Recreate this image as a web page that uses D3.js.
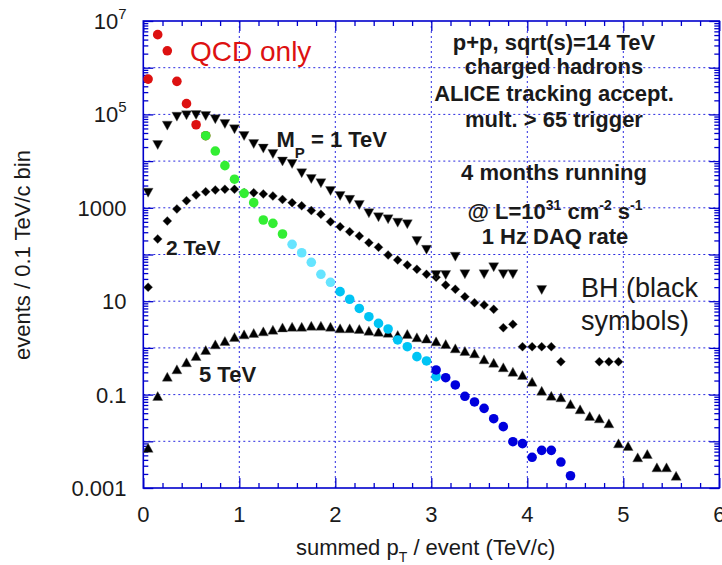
<!DOCTYPE html>
<html><head><meta charset="utf-8">
<script src="https://cdn.jsdelivr.net/npm/d3@7"></script>
<style>
html,body{margin:0;padding:0;background:#fff;}
svg{display:block;font-family:"Liberation Sans",Arial,sans-serif;}
</style></head>
<body>
<svg id="c" width="722" height="565"></svg>
<script>
// ---- data (x = summed pT bin centre in TeV/c, y = events / 0.1 TeV/c bin) ----
const qcdRedX   = [0.05,0.15,0.25,0.35,0.45,0.55,0.65];
const qcdRedY   = [5.7e5,5.1e6,2.3e6,5.1e5,1.7e5,6.0e4,3.5e4];
const qcdGreenX = [0.65,0.75,0.85,0.95,1.05,1.15,1.25,1.35,1.45];
const qcdGreenY = [35000,16400,8000,4100,2040,1290,548,465,275];
const qcdLCyanX = [1.55,1.65,1.75,1.85,1.95];
const qcdLCyanY = [165,109,68,37.7,25.4];
const qcdCyanX  = [2.05,2.15,2.25,2.35,2.45,2.55,2.65,2.75,2.85,2.95,3.05];
const qcdCyanY  = [16.0,11.0,7.0,4.66,3.35,2.54,1.48,1.06,0.65,0.525,0.242];
const qcdBlueX  = [3.05,3.15,3.25,3.35,3.45,3.55,3.65,3.75,3.85,3.95,4.05,4.15,4.25,4.35,4.45];
const qcdBlueY  = [0.337,0.230,0.161,0.092,0.0695,0.0508,0.0305,0.0206,0.0098,0.0089,0.00454,0.0064,0.0064,0.0036,0.00183];

const bh1X = [0.05,0.15,0.25,0.35,0.45,0.55,0.65,0.75,0.85,0.95,1.05,1.15,1.25,1.35,1.45,1.55,1.65,1.75,1.85,1.95,2.05,2.15,2.25,2.35,2.45,2.55,2.65,2.75,2.85,2.95,3.05,3.15,3.25,3.35,3.55,3.65,3.75,3.85,4.15];
const bh1Y = [2100,22100,57400,89300,95500,97000,92500,78500,62200,47900,34400,23200,18500,14200,9800,8670,5480,4140,3350,2290,1790,1480,1150,760,625,566,479,443,195,126,36.4,36.4,89.7,37.7,37.7,53.2,37.7,37.7,17.4];

const bh2X = [0.05,0.15,0.25,0.35,0.45,0.55,0.65,0.75,0.85,0.95,1.05,1.15,1.25,1.35,1.45,1.55,1.65,1.75,1.85,1.95,2.05,2.15,2.25,2.35,2.45,2.55,2.65,2.75,2.85,2.95,3.05,3.15,3.25,3.35,3.45,3.55,3.65,3.75,3.85,3.95,4.05,4.15,4.25,4.35,4.75,4.85,4.95];
const bh2Y = [19.9,215,521,944,1420,1880,2210,2400,2490,2490,2100,2100,1980,1790,1510,1290,1100,871,724,505,394,308,249,179,143,97.5,76.2,59.6,48.2,37.7,32.4,22.2,18.0,12.5,9.29,8.30,6.70,2.71,3.20,1.06,1.06,1.06,1.06,0.506,0.506,0.506,0.506];

const bh5X = [0.05,0.15,0.25,0.35,0.45,0.55,0.65,0.75,0.85,0.95,1.05,1.15,1.25,1.35,1.45,1.55,1.65,1.75,1.85,1.95,2.05,2.15,2.25,2.35,2.45,2.55,2.65,2.75,2.85,2.95,3.05,3.15,3.25,3.35,3.45,3.55,3.65,3.75,3.85,3.95,4.05,4.15,4.25,4.35,4.45,4.55,4.65,4.75,4.85,4.95,5.05,5.15,5.25,5.35,5.45,5.55];
const bh5Y = [0.00724,0.0933,0.242,0.348,0.492,0.671,0.902,1.19,1.41,1.72,1.95,2.09,2.26,2.45,2.75,2.84,2.84,2.99,2.99,2.84,2.63,2.63,2.54,2.33,2.22,2.11,1.89,1.99,1.69,1.58,1.38,1.21,0.98,0.859,0.766,0.570,0.482,0.385,0.309,0.263,0.189,0.121,0.0946,0.0875,0.0630,0.0484,0.0348,0.0310,0.0243,0.00906,0.00794,0.00454,0.00535,0.00277,0.00277,0.00183];

const xTickVals = [0,1,2,3,4,5,6];
const yLabelExp = [7,5,3,1,-1,-3];
const yLabelText = ["10|7","10|5","1000","10","0.1","0.001"];

// ---- layout ----
const svg = d3.select("#c");
const x = d3.scaleLinear().domain([0,6]).range([143.3,719.3]);
const y = d3.scaleLog().domain([1e-3,1e7]).range([488,21]);
const X0 = x(0), X1 = x(6), Y0 = y(1e-3), Y1 = y(1e7);
const AX = "#0000cc", GRID = "#2a2ae0";

// grid
const g = svg.append("g");
[1,2,3,4,5].forEach(v => g.append("line").attr("x1",x(v)).attr("x2",x(v)).attr("y1",Y1).attr("y2",Y0)
  .attr("stroke",GRID).attr("stroke-width",1).attr("stroke-dasharray","2,3"));
d3.range(-2,7).forEach(e => g.append("line").attr("x1",X0).attr("x2",X1).attr("y1",y(Math.pow(10,e))).attr("y2",y(Math.pow(10,e)))
  .attr("stroke",GRID).attr("stroke-width",1).attr("stroke-dasharray","2,3"));

// axes ticks (inward)
const minorX = d3.range(0,30).map(i=>i*0.2).filter(v=>Math.abs(v-Math.round(v))>1e-6 && v<6);
const majorY = d3.range(-3,8).map(e=>Math.pow(10,e));
const minorY = [];
d3.range(-3,7).forEach(e=>{for(let k=2;k<=9;k++) minorY.push(k*Math.pow(10,e));});
function styleAxis(sel){ sel.select(".domain").remove(); sel.selectAll("line").attr("stroke",AX).attr("stroke-width",1.3); sel.selectAll("text").remove(); }
svg.append("g").attr("transform",`translate(0,${Y0})`).call(d3.axisBottom(x).tickValues(minorX).tickSize(-5).tickFormat("")).call(styleAxis);
svg.append("g").attr("transform",`translate(0,${Y0})`).call(d3.axisBottom(x).tickValues(xTickVals).tickSize(-10).tickFormat("")).call(styleAxis);
svg.append("g").attr("transform",`translate(0,${Y1})`).call(d3.axisTop(x).tickValues(minorX).tickSize(-5).tickFormat("")).call(styleAxis);
svg.append("g").attr("transform",`translate(0,${Y1})`).call(d3.axisTop(x).tickValues(xTickVals).tickSize(-10).tickFormat("")).call(styleAxis);
svg.append("g").attr("transform",`translate(${X0},0)`).call(d3.axisLeft(y).tickValues(minorY).tickSize(-5).tickFormat("")).call(styleAxis);
svg.append("g").attr("transform",`translate(${X0},0)`).call(d3.axisLeft(y).tickValues(majorY).tickSize(-10).tickFormat("")).call(styleAxis);
svg.append("g").attr("transform",`translate(${X1},0)`).call(d3.axisRight(y).tickValues(minorY).tickSize(-5).tickFormat("")).call(styleAxis);
svg.append("g").attr("transform",`translate(${X1},0)`).call(d3.axisRight(y).tickValues(majorY).tickSize(-10).tickFormat("")).call(styleAxis);
svg.append("rect").attr("x",X0).attr("y",Y1).attr("width",X1-X0).attr("height",Y0-Y1)
  .attr("fill","none").attr("stroke",AX).attr("stroke-width",1.6);

// tick labels
const TXT = "#1a1a1a";
xTickVals.forEach(v => svg.append("text").attr("x",x(v)).attr("y",522).attr("text-anchor","middle")
  .attr("font-size",22).attr("fill",TXT).text(v));
yLabelExp.forEach((e,i) => {
  const t = svg.append("text").attr("x",126.5).attr("y",y(Math.pow(10,e))+8).attr("text-anchor","end")
    .attr("font-size",22).attr("fill",TXT);
  const parts = yLabelText[i].split("|");
  if (parts.length===2){ t.append("tspan").text(parts[0]); t.append("tspan").attr("dy",-10).attr("font-size",15).text(parts[1]); }
  else t.text(parts[0]);
});

// axis titles
const xt = svg.append("text").attr("x",296).attr("y",555).attr("font-size",22).attr("fill",TXT);
xt.append("tspan").text("summed p");
xt.append("tspan").attr("dy",7).attr("font-size",14).text("T");
xt.append("tspan").attr("dy",-7).text(" / event (TeV/c)");
svg.append("text").attr("transform","translate(30,255) rotate(-90)").attr("text-anchor","middle")
  .attr("font-size",22).attr("fill",TXT).text("events / 0.1 TeV/c bin");

// markers
function zip(xs,ys){ return xs.map((v,i)=>({x:v,y:ys[i]})); }
const triDown = "M-5,-4.5L5,-4.5L0,4.5Z", triUp = "M-5,4.5L5,4.5L0,-4.5Z", diam = "M0,-4.5L4.5,0L0,4.5L-4.5,0Z";
function shapes(data,path,color){
  svg.append("g").selectAll("path").data(data).join("path")
    .attr("d",path).attr("transform",d=>`translate(${x(d.x)},${y(d.y)})`)
    .attr("fill",color).attr("stroke","#555").attr("stroke-width",0.4);
}
shapes(zip(bh5X,bh5Y),triUp,"#000");
shapes(zip(bh2X,bh2Y),diam,"#000");
shapes(zip(bh1X,bh1Y),triDown,"#000");
function circles(data,color){
  svg.append("g").selectAll("circle").data(data).join("circle")
    .attr("cx",d=>x(d.x)).attr("cy",d=>y(d.y)).attr("r",4.8).attr("fill",color);
}
circles(zip(qcdRedX,qcdRedY),"#dd1111");
circles(zip(qcdGreenX,qcdGreenY),"#33ee33");
circles(zip(qcdLCyanX,qcdLCyanY),"#66e4ff");
circles(zip(qcdCyanX,qcdCyanY),"#00c4f4");
circles(zip(qcdBlueX,qcdBlueY),"#0000dd");

// annotations
svg.append("text").attr("x",190).attr("y",61).attr("font-size",28).attr("fill","#dd1111").text("QCD only");
const info = [["p+p, sqrt(s)=14 TeV",50],["charged hadrons",74],["ALICE tracking accept.",101],["mult. > 65 trigger",127],["4 months running",180]];
info.forEach(([t,yy]) => svg.append("text").attr("x",554).attr("y",yy).attr("text-anchor","middle")
  .attr("font-size",22).attr("font-weight","bold").attr("fill",TXT).text(t));
const lum = svg.append("text").attr("x",555).attr("y",219).attr("text-anchor","middle").attr("font-size",22).attr("font-weight","bold").attr("fill",TXT);
lum.append("tspan").text("@ L=10");
lum.append("tspan").attr("dy",-9).attr("font-size",14).text("31");
lum.append("tspan").attr("dy",9).text(" cm");
lum.append("tspan").attr("dy",-9).attr("font-size",14).text("-2");
lum.append("tspan").attr("dy",9).text(" s");
lum.append("tspan").attr("dy",-9).attr("font-size",14).text("-1");
svg.append("text").attr("x",555).attr("y",244).attr("text-anchor","middle").attr("font-size",22).attr("font-weight","bold").attr("fill",TXT).text("1 Hz DAQ rate");

const mp = svg.append("text").attr("x",276.5).attr("y",146.7).attr("font-size",22).attr("font-weight","bold").attr("fill",TXT);
mp.append("tspan").text("M");
mp.append("tspan").attr("dy",11).attr("font-size",15).text("P");
mp.append("tspan").attr("dy",-11).text(" = 1 TeV");
svg.append("text").attr("x",166).attr("y",255).attr("font-size",21).attr("font-weight","bold").attr("fill",TXT).text("2 TeV");
svg.append("text").attr("x",199).attr("y",382).attr("font-size",22).attr("font-weight","bold").attr("fill",TXT).text("5 TeV");
svg.append("text").attr("x",581).attr("y",297).attr("font-size",27).attr("fill",TXT).text("BH (black");
svg.append("text").attr("x",581).attr("y",330).attr("font-size",27).attr("fill",TXT).text("symbols)");
</script>
</body></html>
